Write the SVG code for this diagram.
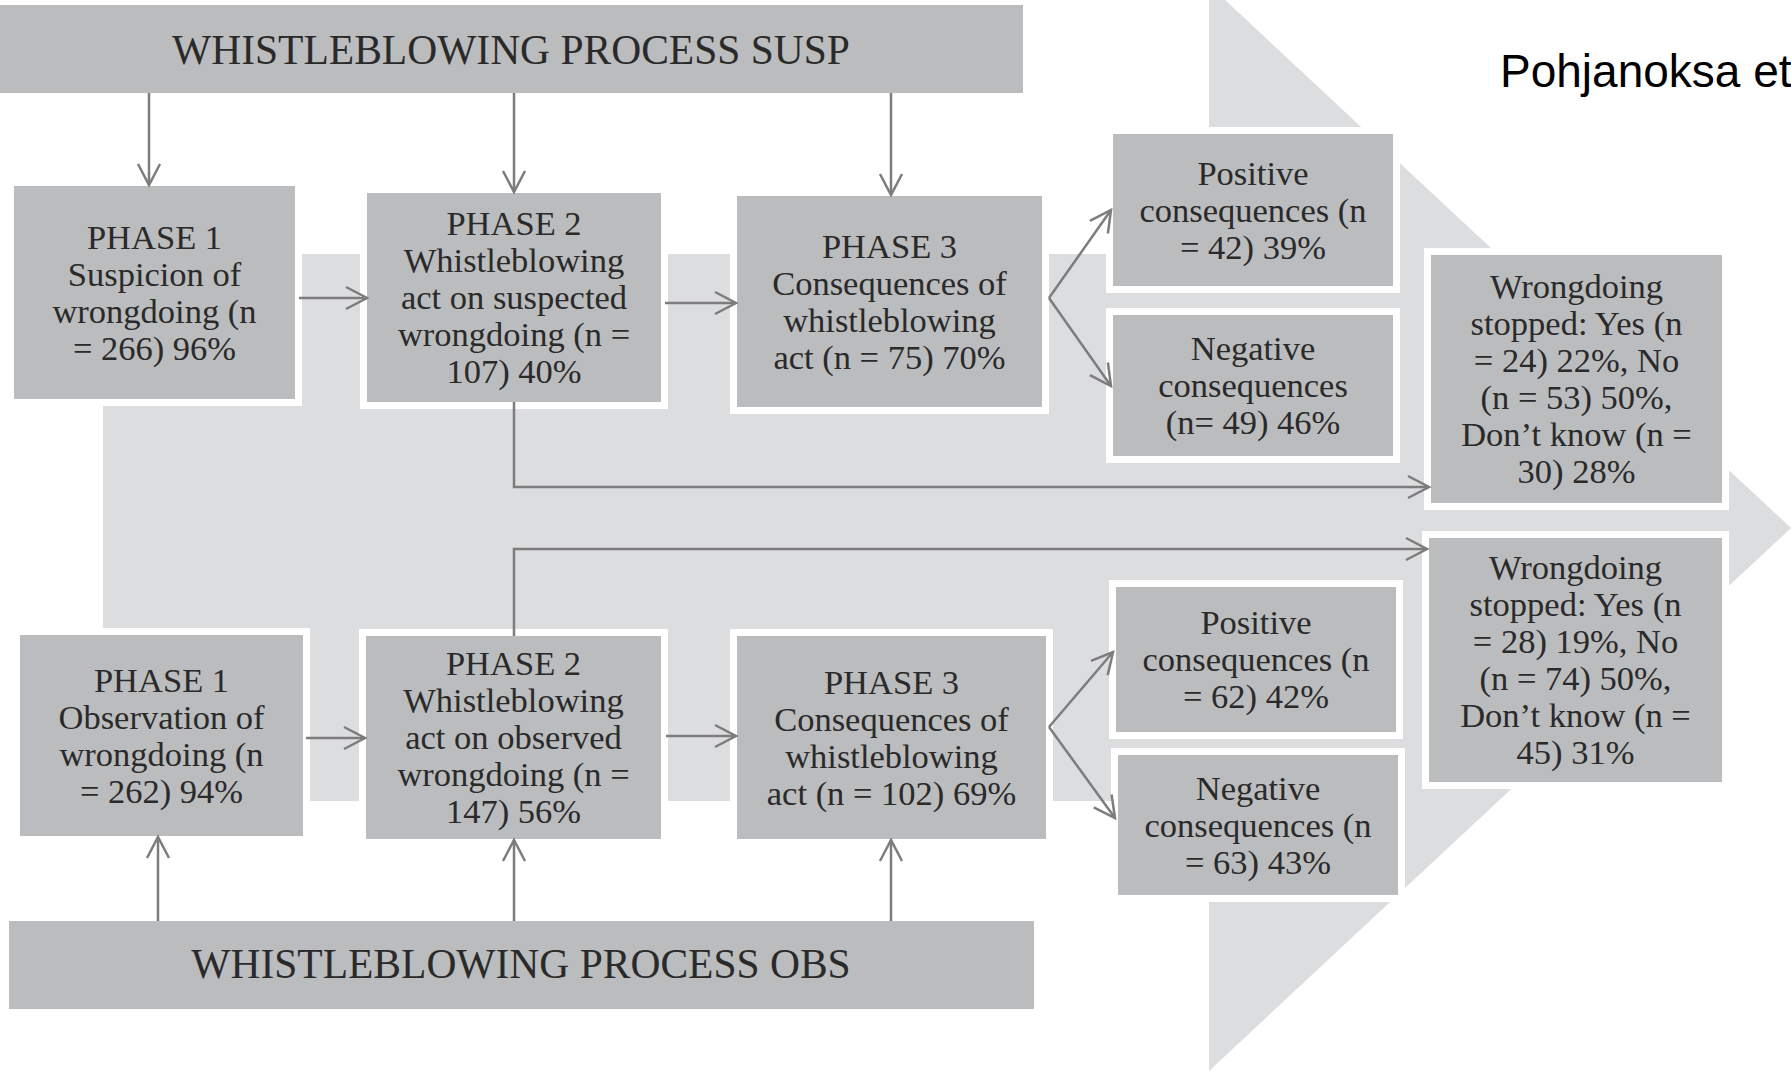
<svg xmlns="http://www.w3.org/2000/svg" width="1791" height="1074" viewBox="0 0 1791 1074">
<defs>
<style>
.bg{fill:#dcdddf}
.box{fill:#bbbcbe;stroke:#ffffff;stroke-width:14;paint-order:stroke}
.t{font-family:"Liberation Serif","Times New Roman",serif;font-size:34.5px;fill:#2a2a2a;text-anchor:middle}
.bt{font-family:"Liberation Serif","Times New Roman",serif;font-size:41.5px;fill:#2a2a2a;text-anchor:middle}
.c{fill:none;stroke:#7d7d7d;stroke-width:2.5}
</style>
<marker id="ah" viewBox="0 0 22 22" markerWidth="22" markerHeight="22" refX="21" refY="11" orient="auto" markerUnits="userSpaceOnUse" overflow="visible">
<path d="M0,0 L21,11 L0,22" fill="none" stroke="#7d7d7d" stroke-width="2.5"/>
</marker>
</defs>
<rect width="1791" height="1074" fill="#ffffff"/>
<path class="bg" d="M103,254 H1209 V-15 L1791,528 L1209,1071 V801 H103 Z"/>
<text x="1500" y="87" font-family="'Liberation Sans',Arial,sans-serif" font-size="46" fill="#000000">Pohjanoksa et</text>

<g id="banner-susp"><rect class="box" x="0" y="5" width="1023" height="88"/><text class="bt" x="511" y="64">WHISTLEBLOWING PROCESS SUSP</text></g>
<g id="banner-obs"><rect class="box" x="9" y="921" width="1025" height="88"/><text class="bt" x="521" y="978">WHISTLEBLOWING PROCESS OBS</text></g>

<g id="susp-phase1"><rect class="box" x="14" y="186" width="281" height="213"/>
<text class="t" y="248.5"><tspan x="154.5">PHASE 1</tspan><tspan x="154.5" dy="37">Suspicion of</tspan><tspan x="154.5" dy="37">wrongdoing (n</tspan><tspan x="154.5" dy="37">= 266) 96%</tspan></text></g>
<g id="susp-phase2"><rect class="box" x="367" y="193" width="294" height="209"/>
<text class="t" y="235"><tspan x="514">PHASE 2</tspan><tspan x="514" dy="37">Whistleblowing</tspan><tspan x="514" dy="37">act on suspected</tspan><tspan x="514" dy="37">wrongdoing (n =</tspan><tspan x="514" dy="37">107) 40%</tspan></text></g>
<g id="susp-phase3"><rect class="box" x="737" y="196" width="305" height="211"/>
<text class="t" y="257.5"><tspan x="889.5">PHASE 3</tspan><tspan x="889.5" dy="37">Consequences of</tspan><tspan x="889.5" dy="37">whistleblowing</tspan><tspan x="889.5" dy="37">act (n = 75) 70%</tspan></text></g>
<g id="susp-positive"><rect class="box" x="1113" y="134" width="280" height="152"/>
<text class="t" y="184.5"><tspan x="1253">Positive</tspan><tspan x="1253" dy="37">consequences (n</tspan><tspan x="1253" dy="37">= 42) 39%</tspan></text></g>
<g id="susp-negative"><rect class="box" x="1113" y="315" width="280" height="141"/>
<text class="t" y="360"><tspan x="1253">Negative</tspan><tspan x="1253" dy="37">consequences</tspan><tspan x="1253" dy="37">(n= 49) 46%</tspan></text></g>
<g id="susp-stopped"><rect class="box" x="1431" y="255" width="291" height="248"/>
<text class="t" y="298"><tspan x="1576.5">Wrongdoing</tspan><tspan x="1576.5" dy="37">stopped: Yes (n</tspan><tspan x="1576.5" dy="37">= 24) 22%, No</tspan><tspan x="1576.5" dy="37">(n = 53) 50%,</tspan><tspan x="1576.5" dy="37">Don’t know (n =</tspan><tspan x="1576.5" dy="37">30) 28%</tspan></text></g>

<g id="obs-phase1"><rect class="box" x="20" y="635" width="283" height="201"/>
<text class="t" y="691.5"><tspan x="161.5">PHASE 1</tspan><tspan x="161.5" dy="37">Observation of</tspan><tspan x="161.5" dy="37">wrongdoing (n</tspan><tspan x="161.5" dy="37">= 262) 94%</tspan></text></g>
<g id="obs-phase2"><rect class="box" x="366" y="636" width="295" height="203"/>
<text class="t" y="675"><tspan x="513.5">PHASE 2</tspan><tspan x="513.5" dy="37">Whistleblowing</tspan><tspan x="513.5" dy="37">act on observed</tspan><tspan x="513.5" dy="37">wrongdoing (n =</tspan><tspan x="513.5" dy="37">147) 56%</tspan></text></g>
<g id="obs-phase3"><rect class="box" x="737" y="636" width="309" height="203"/>
<text class="t" y="693.5"><tspan x="891.5">PHASE 3</tspan><tspan x="891.5" dy="37">Consequences of</tspan><tspan x="891.5" dy="37">whistleblowing</tspan><tspan x="891.5" dy="37">act (n = 102) 69%</tspan></text></g>
<g id="obs-positive"><rect class="box" x="1116" y="587" width="280" height="145"/>
<text class="t" y="634"><tspan x="1256">Positive</tspan><tspan x="1256" dy="37">consequences (n</tspan><tspan x="1256" dy="37">= 62) 42%</tspan></text></g>
<g id="obs-negative"><rect class="box" x="1118" y="755" width="280" height="140"/>
<text class="t" y="799.5"><tspan x="1258">Negative</tspan><tspan x="1258" dy="37">consequences (n</tspan><tspan x="1258" dy="37">= 63) 43%</tspan></text></g>
<g id="obs-stopped"><rect class="box" x="1429" y="538" width="293" height="244"/>
<text class="t" y="579"><tspan x="1575.5">Wrongdoing</tspan><tspan x="1575.5" dy="37">stopped: Yes (n</tspan><tspan x="1575.5" dy="37">= 28) 19%, No</tspan><tspan x="1575.5" dy="37">(n = 74) 50%,</tspan><tspan x="1575.5" dy="37">Don’t know (n =</tspan><tspan x="1575.5" dy="37">45) 31%</tspan></text></g>

<g id="connectors">
<path class="c" marker-end="url(#ah)" d="M149,93 V185"/>
<path class="c" marker-end="url(#ah)" d="M514,93 V192"/>
<path class="c" marker-end="url(#ah)" d="M891,93 V195"/>
<path class="c" marker-end="url(#ah)" d="M158,921 V837"/>
<path class="c" marker-end="url(#ah)" d="M514,921 V840"/>
<path class="c" marker-end="url(#ah)" d="M891,921 V840"/>
<path class="c" marker-end="url(#ah)" d="M299,298 H367"/>
<path class="c" marker-end="url(#ah)" d="M665,303 H736"/>
<path class="c" marker-end="url(#ah)" d="M306,738 H365"/>
<path class="c" marker-end="url(#ah)" d="M666,736 H736"/>
<path class="c" marker-end="url(#ah)" d="M1049,298 L1111,210"/>
<path class="c" marker-end="url(#ah)" d="M1049,298 L1111,386"/>
<path class="c" marker-end="url(#ah)" d="M1049,727 L1113,652"/>
<path class="c" marker-end="url(#ah)" d="M1049,727 L1115,818"/>
<path class="c" marker-end="url(#ah)" d="M514,402 V487 H1429"/>
<path class="c" marker-end="url(#ah)" d="M514,636 V549 H1427"/>
</g>
</svg>
